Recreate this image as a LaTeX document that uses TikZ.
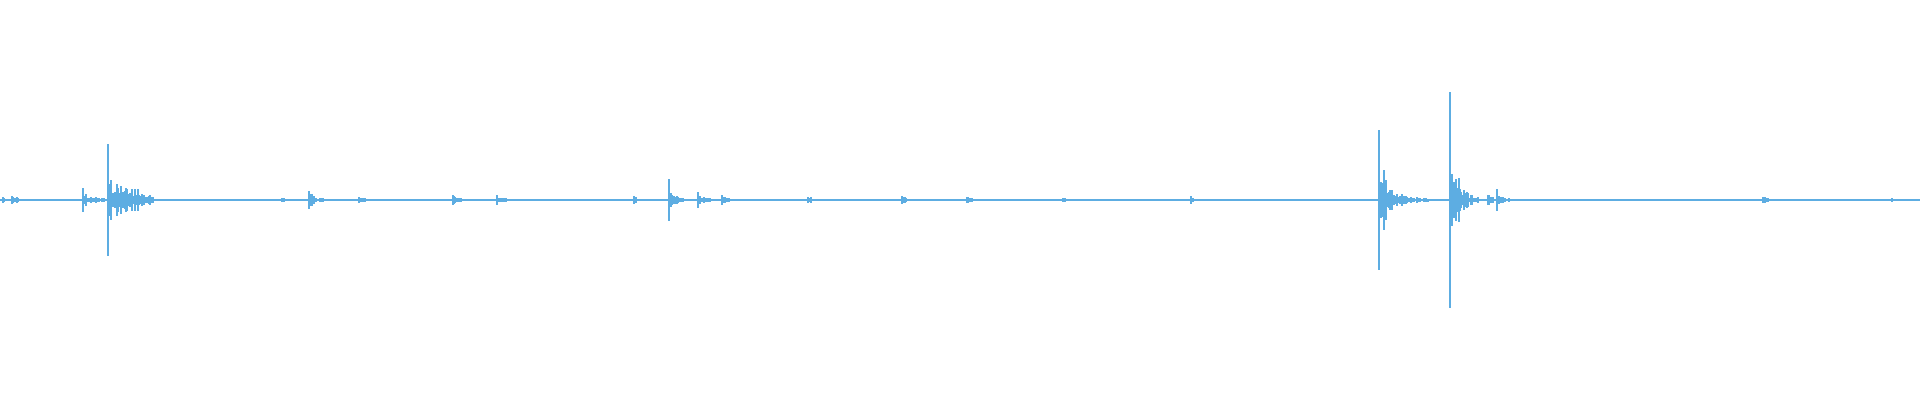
\documentclass[tikz,border=0pt]{standalone}
\definecolor{wave}{RGB}{93,173,226}
\newcommand{\burst}[5]{% x, spike amp, body amp, length, decay
  \fill[wave] (#1-0.6,-#2) rectangle (#1+0.6,#2);
  \foreach \i in {1,...,#4}{
    \pgfmathsetmacro\h{#3*exp(-\i/#5)*(0.15+0.85*rnd)*(0.6+0.8*rnd)+0.9}
    \fill[wave] (#1+\i-0.6,-\h) rectangle (#1+\i+0.6,\h);
  }}
\begin{document}
\begin{tikzpicture}[x=1pt,y=1pt]
\useasboundingbox[fill=white] (0,-200) rectangle (1920,200);
\pgfmathsetseed{11}
\fill[wave] (0,-0.7) rectangle (1920,0.7);
\burst{3}{3}{2}{4}{3}
\burst{12}{4}{5}{10}{4}
\burst{83}{12}{8}{22}{10}
\burst{108}{56}{30}{45}{22}
\burst{282}{2}{2}{6}{3}
\burst{309}{9}{7}{14}{6}
\burst{359}{3}{3}{8}{4}
\burst{453}{5}{5}{12}{5}
\burst{497}{5}{5}{12}{5}
\burst{634}{4}{3}{8}{4}
\burst{669}{21}{12}{16}{7}
\burst{698}{8}{6}{14}{6}
\burst{722}{5}{4}{10}{5}
\burst{808}{3}{3}{10}{5}
\burst{902}{4}{3}{8}{4}
\burst{967}{3}{3}{8}{4}
\burst{1063}{2}{2}{6}{3}
\burst{1191}{4}{3}{5}{3}
\burst{1379}{70}{36}{50}{12}
\burst{1450}{108}{55}{28}{8}
\burst{1488}{5}{5}{12}{5}
\burst{1497}{11}{6}{18}{6}
\burst{1763}{3}{3}{8}{4}
\burst{1892}{2}{2}{6}{3}
\end{tikzpicture}
\end{document}
